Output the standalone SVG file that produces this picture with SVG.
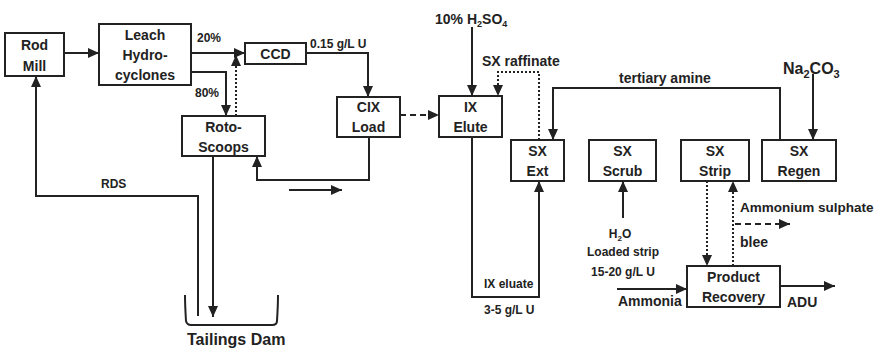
<svg xmlns="http://www.w3.org/2000/svg" width="877" height="348" viewBox="0 0 877 348">
<defs>
<marker id="ah" markerUnits="userSpaceOnUse" markerWidth="12" markerHeight="10" refX="11" refY="5" orient="auto">
<path d="M0,0 L11,5 L0,10 z" fill="#222"/>
</marker>
<style>
.box{fill:#fff;stroke:#222;stroke-width:2}
.ln{fill:none;stroke:#222;stroke-width:2}
.arr{fill:none;stroke:#222;stroke-width:2;marker-end:url(#ah)}
.dot{stroke-dasharray:2 2}
.dash{stroke-dasharray:6 4}
text{font-family:"Liberation Sans",Arial,sans-serif;font-weight:bold;fill:#222}
.n{font-size:14px;text-anchor:middle}
.s{font-size:12px}
.m{font-size:14px}
</style>
</defs>
<rect width="877" height="348" fill="#fff"/>
<g id="connectors">
<path class="arr" d="M64,53 H99"/>
<path class="arr" d="M191,53 H245"/>
<path class="arr" d="M191,72 H226 V116"/>
<path class="arr dot" d="M236,116 V55"/>
<path class="arr" d="M306,53 H368 V97"/>
<path class="arr" d="M369,137 V180 H257 V156"/>
<path class="arr" d="M289,190 H342"/>
<path class="arr" d="M213,156 V317"/>
<path class="arr" d="M198,316 V196 H36 V76"/>
<path class="arr dash" d="M400,115 H439"/>
<path class="arr" d="M472,27 V96"/>
<path class="arr dot" d="M539,140 V72 H498 V96"/>
<path class="arr" d="M780,140 V88 H553 V140"/>
<path class="arr" d="M813,74 V140"/>
<path class="arr" d="M472,137 V297 H539 V181"/>
<path class="arr" d="M623,218 V181"/>
<path class="arr dot" d="M707,181 V266"/>
<path class="arr dot" d="M733,266 V181"/>
<path class="arr dash" d="M735,224 H790"/>
<path class="arr" d="M617,289 H687"/>
<path class="arr" d="M780,286 H835"/>
</g>
<g id="rod-mill"><rect class="box" x="5" y="33" width="59" height="43"/><text class="n" x="34.5" y="50">Rod</text><text class="n" x="34.5" y="71">Mill</text></g>
<g id="leach"><rect class="box" x="99" y="24" width="92" height="61"/><text class="n" x="145" y="40">Leach</text><text class="n" x="145" y="60">Hydro-</text><text class="n" x="145" y="80">cyclones</text></g>
<g id="ccd"><rect class="box" x="245" y="43" width="61" height="21"/><text class="n" x="275.5" y="59">CCD</text></g>
<g id="roto"><rect class="box" x="182" y="116" width="83" height="40"/><text class="n" x="223.5" y="132">Roto-</text><text class="n" x="223.5" y="152">Scoops</text></g>
<g id="cix"><rect class="box" x="337" y="97" width="63" height="40"/><text class="n" x="368.5" y="112">CIX</text><text class="n" x="368.5" y="132">Load</text></g>
<g id="ix"><rect class="box" x="439" y="96" width="63" height="41"/><text class="n" x="470.5" y="112">IX</text><text class="n" x="470.5" y="132">Elute</text></g>
<g id="sx-ext"><rect class="box" x="511" y="140" width="53" height="41"/><text class="n" x="537.5" y="156">SX</text><text class="n" x="537.5" y="176">Ext</text></g>
<g id="sx-scrub"><rect class="box" x="589" y="140" width="67" height="41"/><text class="n" x="622.5" y="156">SX</text><text class="n" x="622.5" y="176">Scrub</text></g>
<g id="sx-strip"><rect class="box" x="681" y="140" width="68" height="41"/><text class="n" x="715" y="156">SX</text><text class="n" x="715" y="176">Strip</text></g>
<g id="sx-regen"><rect class="box" x="762" y="140" width="74" height="41"/><text class="n" x="799" y="156">SX</text><text class="n" x="799" y="176">Regen</text></g>
<g id="product"><rect class="box" x="687" y="266" width="93" height="41"/><text class="n" x="733.5" y="282">Product</text><text class="n" x="733.5" y="302">Recovery</text></g>
<g id="tailings"><path class="ln" d="M185,295 Q185,305 186,321 Q187,325 191,325 H272 Q277,325 277,321 Q278,305 278,295"/><text x="187" y="345" style="font-size:16px">Tailings Dam</text></g>
<g id="labels">
<text class="s" x="197" y="42">20%</text>
<text class="s" x="195" y="97">80%</text>
<text class="s" x="310" y="48">0.15 g/L U</text>
<text class="m" x="435" y="24">10% H<tspan font-size="9" dy="3">2</tspan><tspan dy="-3">SO</tspan><tspan font-size="9" dy="3">4</tspan></text>
<text class="m" x="482" y="66">SX raffinate</text>
<text class="m" x="619" y="83">tertiary amine</text>
<text x="783" y="74" style="font-size:16px">Na<tspan font-size="11" dy="4">2</tspan><tspan dy="-4">CO</tspan><tspan font-size="11" dy="4">3</tspan></text>
<text class="s" x="101" y="188">RDS</text>
<text class="s" x="484" y="288">IX eluate</text>
<text class="s" x="484" y="314">3-5 g/L U</text>
<text class="s" x="620" y="238" text-anchor="middle">H<tspan font-size="8" dy="3">2</tspan><tspan dy="-3">O</tspan></text>
<text class="s" x="623" y="256" text-anchor="middle">Loaded strip</text>
<text class="s" x="623" y="276" text-anchor="middle">15-20 g/L U</text>
<text class="m" x="740" y="212" style="font-size:13.5px">Ammonium sulphate</text>
<text class="m" x="740" y="247">blee</text>
<text class="m" x="618" y="306">Ammonia</text>
<text class="m" x="787" y="307">ADU</text>
</g>
</svg>
